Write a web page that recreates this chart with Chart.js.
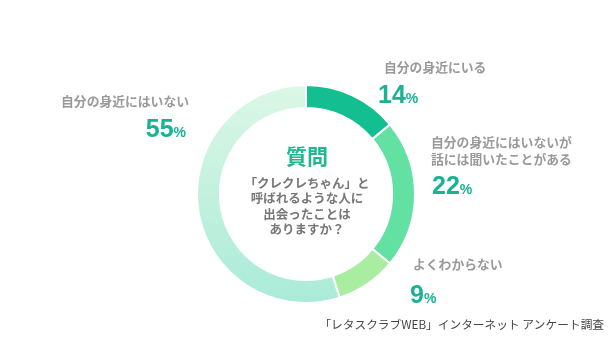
<!DOCTYPE html>
<html lang="ja">
<head>
<meta charset="utf-8">
<script src="https://cdn.jsdelivr.net/npm/chart.js@4"></script>
<style>
    html, body { margin: 0; padding: 0; background: #fff; }
    #wrap { position: relative; width: 615px; height: 346px; }
</style>
</head>
<body>
<div id="wrap"><canvas id="pieChart" width="615" height="346"></canvas></div>
<script>
// アンケート結果のデータ
const answers = ['自分の身近にいる', '自分の身近にはいないが\n話には聞いたことがある', 'よくわからない', '自分の身近にはいない'];
const percents = [14, 22, 9, 55];
const questionTitle = '質問';
const questionLines = ['「クレクレちゃん」と', '呼ばれるような人に', '出会ったことは', 'ありますか？'];
const sourceText = '「レタスクラブWEB」インターネット アンケート調査';

const JP_FONT = '"Noto Sans CJK JP", "Noto Sans", sans-serif';
const NUM_FONT = '"Liberation Sans", Arial, sans-serif';
const sliceColors = ['#13bf90', '#62e1a3', '#a9eda0'];

// 55%のセグメントは薄いグラデーション
function sliceColor(context) {
    if (context.dataIndex < sliceColors.length) return sliceColors[context.dataIndex];
    const chart = context.chart;
    const area = chart.chartArea;
    if (!area) return '#c6f1e0';
    const g = chart.ctx.createLinearGradient(0, area.top, 0, area.bottom);
    g.addColorStop(0, '#dcf7e5');
    g.addColorStop(1, '#a9ebd8');
    return g;
}

// ラベル位置（テキストのみ）
const labelPos = [
    { x: 384, y: 67, align: 'left', numX: 378, numY: 94 },
    { x: 431, y: 142, align: 'left', numX: 432, numY: 185 },
    { x: 413, y: 264, align: 'left', numX: 410, numY: 294 },
    { x: 189, y: 101, align: 'right', numX: 186, numY: 128 }
];

const textPlugin = {
    id: 'textPlugin',
    afterDraw(chart) {
        const ctx = chart.ctx;
        const meta = chart.getDatasetMeta(0);
        const cx = meta.data[0].x;
        ctx.save();
        ctx.textBaseline = 'middle';

        // 中央の質問
        ctx.textAlign = 'center';
        ctx.fillStyle = '#1db88f';
        ctx.font = 'bold 21px ' + JP_FONT;
        ctx.fillText(questionTitle, cx + 1, 156);
        ctx.fillStyle = '#777';
        ctx.font = 'bold 12.5px ' + JP_FONT;
        questionLines.forEach((line, i) => {
            ctx.fillText(line, cx + 1, 183 + i * 15.5);
        });

        // 各回答のラベル
        answers.forEach((label, i) => {
            const p = labelPos[i];
            ctx.textAlign = p.align;
            ctx.fillStyle = '#999';
            ctx.font = 'bold 12.8px ' + JP_FONT;
            label.split('\n').forEach((line, j) => {
                ctx.fillText(line, p.x, p.y + j * 17);
            });

            // パーセント表示
            const num = String(percents[i]);
            ctx.font = 'bold 25px ' + NUM_FONT;
            const numW = ctx.measureText(num).width;
            ctx.font = 'bold 14px ' + NUM_FONT;
            const pctW = ctx.measureText('%').width;
            const startX = p.align === 'left' ? p.numX : p.numX - numW - pctW;
            ctx.textAlign = 'left';
            ctx.fillStyle = '#19b394';
            ctx.textBaseline = 'alphabetic';
            ctx.font = 'bold 25px ' + NUM_FONT;
            ctx.fillText(num, startX, p.numY + 9);
            ctx.font = 'bold 14px ' + NUM_FONT;
            ctx.fillText('%', startX + numW, p.numY + 9);
            ctx.textBaseline = 'middle';
        });

        // 出典
        ctx.textAlign = 'right';
        ctx.fillStyle = '#444';
        ctx.font = '11.7px ' + JP_FONT;
        ctx.fillText(sourceText, 604, 325);
        ctx.restore();
    }
};

const pieCtx = document.getElementById('pieChart').getContext('2d');
new Chart(pieCtx, {
    type: 'doughnut',
    data: {
        labels: answers,
        datasets: [{
            data: percents,
            backgroundColor: sliceColor,
            borderColor: '#ffffff',
            borderWidth: 2
        }]
    },
    options: {
        responsive: false,
        animation: false,
        cutout: '79%',
        layout: {
            padding: { top: 84, bottom: 42, left: 0, right: 3 }
        },
        plugins: {
            legend: { display: false },
            tooltip: { enabled: false }
        }
    },
    plugins: [textPlugin]
});
</script>
</body>
</html>
